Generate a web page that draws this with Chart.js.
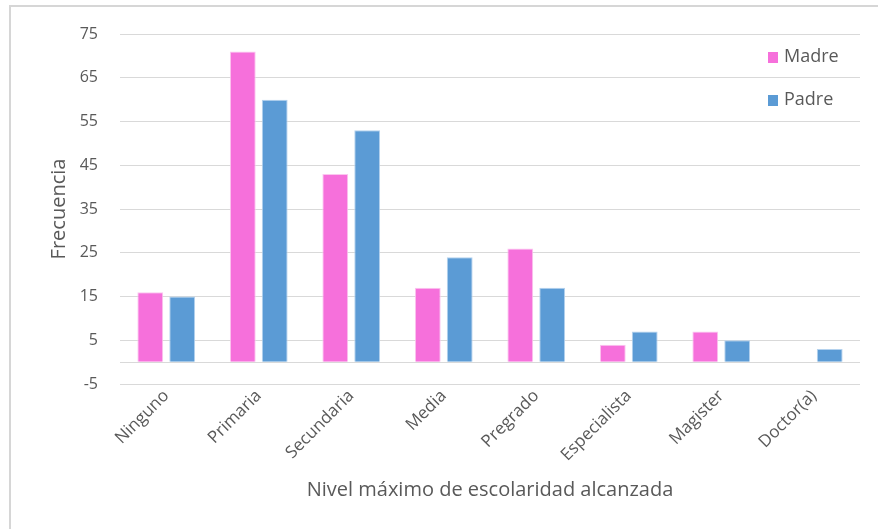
<!DOCTYPE html>
<html>
<head>
<meta charset="utf-8">
<script src="https://cdn.jsdelivr.net/npm/chart.js@4"></script>
<style>
  html, body { margin: 0; padding: 0; background: #fff; }
  #wrap { position: relative; width: 878px; height: 529px; }
  #frame { position: absolute; left: 9px; top: 5px; right: 0; bottom: 0;
           border-left: 2px solid #d6d6d6; border-top: 2px solid #d6d6d6; pointer-events: none; }
  canvas { position: absolute; left: 0; top: 0; }
</style>
</head>
<body>
<div id="wrap">
  <canvas id="c" width="878" height="529"></canvas>
  <div id="frame"></div>
</div>
<script>
const categories = ["Ninguno", "Primaria", "Secundaria", "Media", "Pregrado", "Especialista", "Magister", "Doctor(a)"];
const madre = [16, 71, 43, 17, 26, 4, 7, 0];
const padre = [15, 60, 53, 24, 17, 7, 5, 3];
const yTicks = [-5, 0, 5, 15, 25, 35, 45, 55, 65, 75];
const yLabeled = [-5, 5, 15, 25, 35, 45, 55, 65, 75];
const seriesNames = ["Madre", "Padre"];

const PINK = "#F670DB";
const BLUE = "#5B9BD5";
const TXT = "#595959";
const FONT = "'Open Sans', sans-serif";

const legendPlugin = {
  id: "insideLegend",
  afterDraw(chart) {
    const ctx = chart.ctx;
    ctx.save();
    ctx.font = "18px " + FONT;
    ctx.textBaseline = "middle";
    ctx.textAlign = "left";
    chart.data.datasets.forEach((ds, i) => {
      const y = 57 + i * 43;
      ctx.fillStyle = ds.backgroundColor;
      ctx.fillRect(768, y - 5, 10, 11);
      ctx.fillStyle = TXT;
      ctx.fillText(ds.label, 784, y);
    });
    ctx.restore();
  }
};

new Chart(document.getElementById("c"), {
  type: "bar",
  data: {
    labels: categories,
    datasets: [
      { label: seriesNames[0], data: madre, backgroundColor: PINK, borderColor: "#fbc6ef", borderWidth: 1 },
      { label: seriesNames[1], data: padre, backgroundColor: BLUE, borderColor: "#b4d2ee", borderWidth: 1 }
    ]
  },
  options: {
    responsive: false,
    animation: false,
    events: [],
    layout: { padding: { top: 34, right: 18, left: 0, bottom: 0 } },
    plugins: { legend: { display: false }, tooltip: { enabled: false } },
    datasets: { bar: { categoryPercentage: 0.69, barPercentage: 0.81 } },
    scales: {
      x: {
        grid: { display: false, drawTicks: false },
        border: { display: false },
        ticks: { color: TXT, font: { family: FONT, size: 17 }, minRotation: 45, maxRotation: 45, padding: 2, autoSkip: false },
        title: { display: true, text: "Nivel máximo de escolaridad alcanzada", color: TXT,
                 font: { family: FONT, size: 20 }, padding: { top: 0, bottom: 27 } },
        afterFit(s) { s.height = 145; }
      },
      y: {
        min: -5, max: 75,
        grid: { color: "#d9d9d9", lineWidth: 1, drawTicks: false },
        border: { display: false },
        afterBuildTicks(s) { s.ticks = yTicks.map(v => ({ value: v })); },
        ticks: {
          color: TXT, font: { family: FONT, size: 16 }, padding: 22,
          callback: (v) => yLabeled.includes(v) ? String(v) : ""
        },
        title: { display: true, text: "Frecuencia", color: TXT,
                 font: { family: FONT, size: 20 }, padding: { top: 47, bottom: 0 } },
        afterFit(s) { s.width = 120; }
      }
    }
  },
  plugins: [legendPlugin]
});
</script>
</body>
</html>
